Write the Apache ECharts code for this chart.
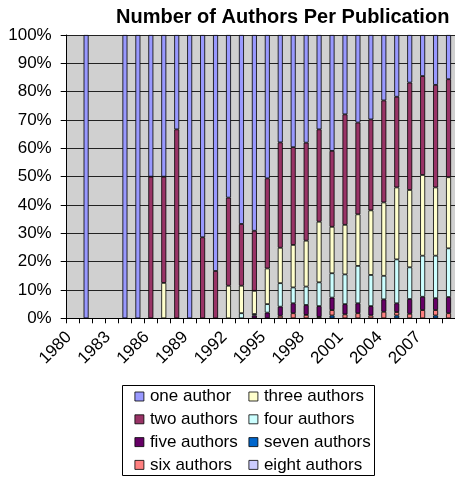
<!DOCTYPE html>
<html>
<head>
<meta charset="utf-8">
<script src="https://cdn.jsdelivr.net/npm/echarts@6/dist/echarts.min.js"></script>
<style>html,body{margin:0;padding:0;background:#fff;}#c{width:455px;height:477px;}</style>
</head>
<body>
<div id="c"></div>
<script>
const years = ['1980','1981','1982','1983','1984','1985','1986','1987','1988','1989','1990','1991','1992','1993','1994','1995','1996','1997','1998','1999','2000','2001','2002','2003','2004','2005','2006','2007','2008','2009'];
const oneAuthor   = [0,100,0,0,100,100,50,50,33.3,100,71.4,83.3,57.4,66.7,69.1,50.6,37.9,39.6,38.0,33.3,40.9,28.0,30.9,29.8,23.1,21.8,16.8,14.5,17.6,15.6];
const twoAuthors  = [0,0,0,0,0,0,50,37.5,66.7,0,28.6,16.7,31.1,21.8,21.2,31.8,37.2,34.5,34.6,32.6,26.8,39.0,32.4,32.1,36.0,32.0,37.9,34.9,36.2,34.6];
const threeAuthors= [0,0,0,0,0,0,0,12.5,0,0,0,0,11.5,9.7,8.2,12.6,12.5,15.0,16.2,21.4,16.4,17.5,18.2,22.8,25.9,25.4,27.3,28.5,24.1,25.1];
const fourAuthors = [0,0,0,0,0,0,0,0,0,0,0,0,0,1.8,0.5,3.0,8.3,5.6,6.5,8.4,8.6,10.5,13.2,11.0,8.3,15.5,11.2,14.5,15.0,17.2];
const fiveAuthors = [0,0,0,0,0,0,0,0,0,0,0,0,0,0,1.0,2.0,3.2,3.5,3.5,3.8,4.4,3.6,3.5,3.3,4.4,3.1,5.2,4.7,4.2,5.7];
const sixAuthors  = [0,0,0,0,0,0,0,0,0,0,0,0,0,0,0,0,0.9,1.8,1.2,0.5,1.9,1.4,1.8,1.0,2.3,1.2,1.6,2.9,1.9,1.8];
const sevenAuthors= [0,0,0,0,0,0,0,0,0,0,0,0,0,0,0,0,0,0,0,0,1.0,0,0,0,0,1.0,0,0,1.0,0];
const eightAuthors= [0,0,0,0,0,0,0,0,0,0,0,0,0,0,0,0,0,0,0,0,0,0,0,0,0,0,0,0,0,0];
const yTicks = ['0%','10%','20%','30%','40%','50%','60%','70%','80%','90%','100%'];
const legendRows = [['one author','three authors'],['two authors','four authors'],['five authors','seven authors'],['six authors','eight authors']];

const FONT = 'Liberation Sans, Arial, sans-serif';
// bottom-to-top stacking order
const seriesDefs = [
  ['eight authors', eightAuthors, '#CCCCFF'],
  ['seven authors', sevenAuthors, '#0066CC'],
  ['six authors', sixAuthors, '#FF8080'],
  ['five authors', fiveAuthors, '#660066'],
  ['four authors', fourAuthors, '#CCFFFF'],
  ['three authors', threeAuthors, '#FFFFCC'],
  ['two authors', twoAuthors, '#993366'],
  ['one author', oneAuthor, '#9999FF']
];
const series = seriesDefs.map(([name, arr, color]) => ({
  name, type: 'bar', stack: 'all', barWidth: 5,
  itemStyle: { color, borderColor: '#000', borderWidth: 0.8 },
  emphasis: { disabled: true },
  data: arr.map(v => v > 0 ? v : '-')
}));

const rowCenters = [396.5, 419.3, 442.1, 464.9];
const colLefts = [134.5, 248.5];
const legends = [];
legendRows.forEach((row, r) => {
  row.forEach((name, c) => {
    legends.push({
      orient: 'horizontal', padding: 0, itemWidth: 9, itemHeight: 9,
      icon: 'rect', selectedMode: false,
      left: colLefts[c], top: rowCenters[r] - 9,
      itemStyle: { borderColor: '#000', borderWidth: 0.8 },
      textStyle: { fontFamily: FONT, fontSize: 17, color: '#000', lineHeight: 18, padding: [0,0,0,1] },
      data: [name]
    });
  });
});

const chart = echarts.init(document.getElementById('c'), null, { renderer: 'canvas' });
chart.setOption({
  animation: false,
  backgroundColor: '#fff',
  title: {
    text: 'Number of Authors Per Publication', left: 116, top: 7, padding: 0,
    textStyle: { fontFamily: FONT, fontSize: 20, fontWeight: 'bold', color: '#000' }
  },
  legend: legends,
  graphic: [{
    type: 'rect', shape: { x: 122.5, y: 385.5, width: 252, height: 90 },
    style: { fill: 'none', stroke: '#000', lineWidth: 1 }, silent: true, z: -1
  }],
  grid: { left: 66.7, right: -7.7, top: 35, bottom: 158.7, show: true, backgroundColor: '#d0d0d0', borderWidth: 0 },
  xAxis: {
    type: 'category', data: years, boundaryGap: true,
    axisLine: { lineStyle: { color: '#000', width: 1 } },
    axisTick: { show: true, interval: 0, alignWithLabel: false, length: 5, lineStyle: { color: '#000' } },
    axisLabel: { interval: 2, rotate: 45, margin: 12, padding: [0, 6, 10, 0], fontFamily: FONT, fontSize: 17, color: '#000' },
    splitLine: { show: false }
  },
  yAxis: {
    type: 'value', min: 0, max: 100, interval: 10,
    axisLine: { show: true, lineStyle: { color: '#000', width: 1 } },
    axisTick: { show: true, length: 6, lineStyle: { color: '#000' } },
    axisLabel: { margin: 15, fontFamily: FONT, fontSize: 17, color: '#000',
      formatter: v => yTicks[Math.round(v / 10)] },
    splitLine: { show: true, lineStyle: { color: '#222', width: 1 } }
  },
  series
});
</script>
</body>
</html>
